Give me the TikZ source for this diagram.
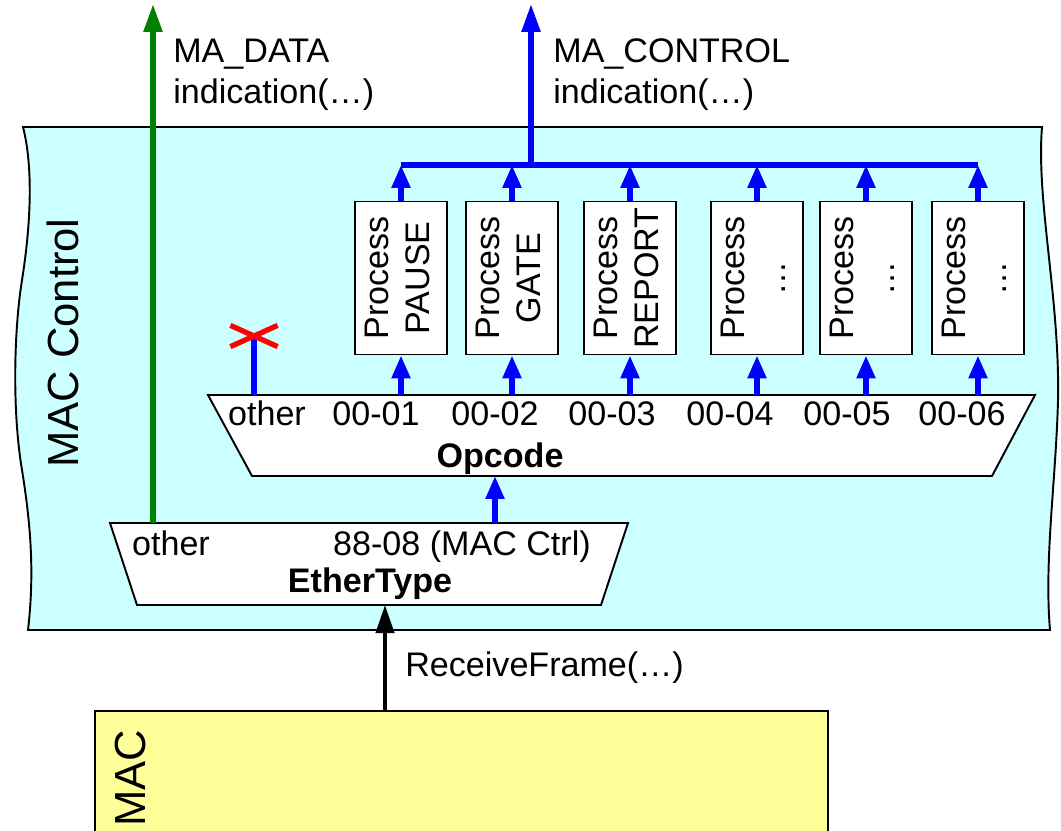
\documentclass[tikz,border=0pt]{standalone}
\usepackage{graphicx}
\usepackage{fontspec}
\setmainfont{Liberation Sans}
\usepackage{xcolor}
\usepackage{tikz}
\usetikzlibrary{arrows.meta,shapes.misc}
\definecolor{ctrlcyan}{HTML}{CCFFFF}
\definecolor{macyellow}{HTML}{FFFF99}
\definecolor{datagreen}{HTML}{008000}
\newcommand{\lblfont}{\fontsize{19.4pt}{23.3pt}\selectfont}
\newcommand{\layerfont}{\fontsize{24.8pt}{29pt}\selectfont}
\newcommand{\proc}[1]{\rotatebox{90}{\begin{tabular}{@{}c@{}}Process\\#1\end{tabular}}}
\tikzset{
  barr/.style={-{Triangle[length=4.6mm,width=3.6mm]}, line width=3.1pt, blue},
  bline/.style={line width=3.1pt, blue},
  uparr/.style={-{Triangle[length=5.6mm,width=3.6mm]}, line width=3.1pt},
  procbox/.style={draw, fill=white, line width=1.1pt, minimum width=1.84cm,
    minimum height=3.06cm, inner sep=0pt, font=\lblfont},
  trap/.style={draw, fill=white, line width=1.1pt},
  lbl/.style={inner sep=0pt, font=\lblfont}
}

\begin{document}
\begin{tikzpicture}[x=0.02cm,y=-0.02cm]
  \useasboundingbox (0,0) rectangle (1061,831);
  % MAC Control layer
  \draw[fill=ctrlcyan, line width=1.1pt] (23,127) -- (1042,127)
    .. controls (1036,200) and (1060,300) .. (1058,400)
    .. controls (1056,480) and (1044,560) .. (1050,630) -- (28,630)
    .. controls (35,570) and (30,520) .. (22,470)
    .. controls (12,410) and (14,330) .. (22,280)
    .. controls (30,230) and (34,170) .. (23,127) -- cycle;
  \node[rotate=90, inner sep=0pt, font=\layerfont] (ctrl) at (63,343) {MAC Control};

  % MAC layer
  \node[draw, fill=macyellow, line width=1.1pt, minimum width=14.66cm,
    minimum height=3cm] (mac) at (461.5,786) {};
  \node[rotate=90, inner sep=0pt, font=\layerfont] (macl) at (130,778) {MAC};

  % EtherType
  \draw[trap] (110,523) -- (628,523) -- (601,605) -- (137,605) -- cycle;
  \node[lbl, anchor=base] (eoth) at (171,555) {other};
  \node[lbl, anchor=base] (ectl) at (462,555) {88-08 (MAC Ctrl)};
  \node[lbl, anchor=base, font=\lblfont\bfseries] (etype) at (370,592) {EtherType};
  \coordinate (etin) at (385,605);
  \coordinate (etda) at (153,523);
  \coordinate (etct) at (495,523);

  % Opcode
  \draw[trap] (208,395) -- (1035,395) -- (992,476) -- (252,476) -- cycle;
  \node[lbl, anchor=base] (ooth) at (267,425) {other};
  \node[lbl, anchor=base] (o1) at (376,425) {00-01};
  \node[lbl, anchor=base] (o2) at (495,425) {00-02};
  \node[lbl, anchor=base] (o3) at (612,425) {00-03};
  \node[lbl, anchor=base] (o4) at (730,425) {00-04};
  \node[lbl, anchor=base] (o5) at (847,425) {00-05};
  \node[lbl, anchor=base] (o6) at (962,425) {00-06};
  \node[lbl, anchor=base, font=\lblfont\bfseries] (opcode) at (500,467) {Opcode};
  \coordinate (opin) at (495,476);
  \coordinate (opx) at (254,395);
  \coordinate (cutc) at (254,336);

  % process boxes
  \node[procbox] (p1) at (401,278) {\proc{PAUSE}};
  \node[procbox] (p2) at (512,278) {\proc{GATE}};
  \node[procbox] (p3) at (630,278) {\proc{REPORT}};
  \node[procbox] (p4) at (757,278) {\proc{\dots}};
  \node[procbox] (p5) at (866,278) {\proc{\dots}};
  \node[procbox] (p6) at (978,278) {\proc{\dots}};

  % bus and indications
  \coordinate (b1) at (401,165);
  \coordinate (b2) at (512,165);
  \coordinate (b3) at (630,165);
  \coordinate (b4) at (757,165);
  \coordinate (b5) at (866,165);
  \coordinate (b6) at (978,165);
  \coordinate (bc) at (531,165);
  \coordinate (mactl) at (531,4);
  \coordinate (madat) at (153,4);

  \draw[bline] (b1) -- (b6);
  \draw[barr] (p1.north) -- (b1);
  \draw[barr] (p2.north) -- (b2);
  \draw[barr] (p3.north) -- (b3);
  \draw[barr] (p4.north) -- (b4);
  \draw[barr] (p5.north) -- (b5);
  \draw[barr] (p6.north) -- (b6);
  \draw[barr] (p1.south |- opx) -- (p1.south);
  \draw[barr] (p2.south |- opx) -- (p2.south);
  \draw[barr] (p3.south |- opx) -- (p3.south);
  \draw[barr] (p4.south |- opx) -- (p4.south);
  \draw[barr] (p5.south |- opx) -- (p5.south);
  \draw[barr] (p6.south |- opx) -- (p6.south);
  \draw[bline] (opx) -- (cutc);
  \node[cross out, draw=red, line width=3pt, minimum width=0.84cm,
    minimum height=0.32cm, inner sep=0pt] (cut) at (cutc) {};
  \draw[barr] (etct) -- (opin);
  \draw[uparr, blue] (bc) -- (mactl);
  \draw[uparr, datagreen] (etda) -- (madat);
  \draw[uparr, line width=2.3pt] (mac.north -| etin) -- (etin);

  \node[lbl, anchor=west, align=left] (mad) at (173,75) {MA\_DATA\\indication(\dots)};
  \node[lbl, anchor=west, align=left] (mac2) at (553,75) {MA\_CONTROL\\indication(\dots)};
  \node[lbl, anchor=west] (rcv) at (405,668) {ReceiveFrame(\dots)};
\end{tikzpicture}
\end{document}
